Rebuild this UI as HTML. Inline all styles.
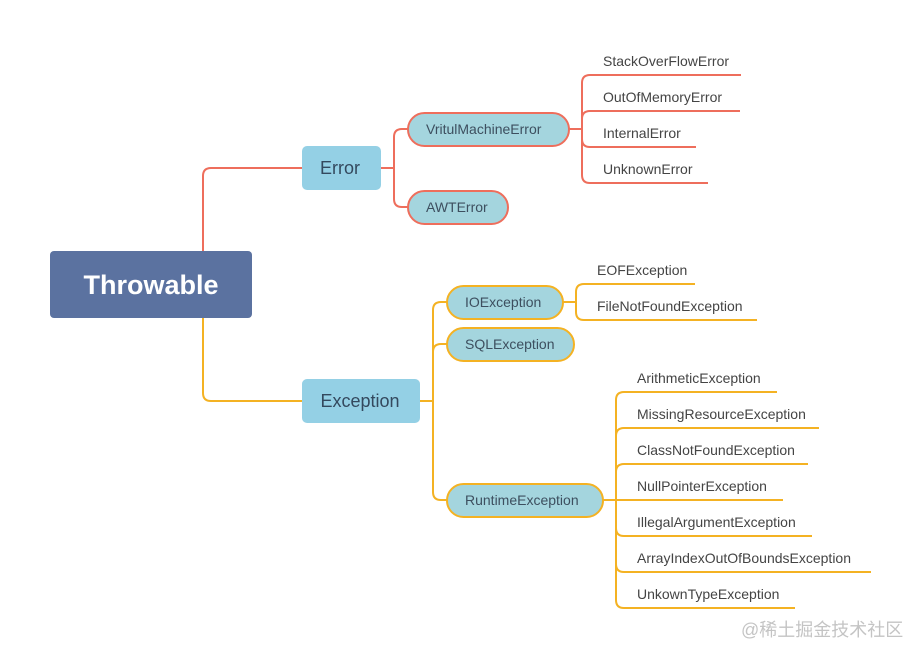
<!DOCTYPE html>
<html><head><meta charset="utf-8"><style>
html,body{margin:0;padding:0;background:#fff;}
svg{display:block;}
text{font-family:"Liberation Sans","Noto Sans CJK SC",sans-serif;}
</style></head><body>
<svg width="921" height="659" viewBox="0 0 921 659" xmlns="http://www.w3.org/2000/svg">
<g fill="none" stroke-width="2" stroke="#ee6e5c">
  <path d="M203 251 V176 Q203 168 211 168 H302"/>
  <path d="M381 168 H394"/>
  <path d="M408 129 H402 Q394 129 394 137 V199 Q394 207 402 207 H408"/>
  <path d="M569 129 H582"/>
  <path d="M741 75 H590 Q582 75 582 83 V175 Q582 183 590 183 H708"/>
  <path d="M740 111 H590 Q582 111 582 119"/>
  <path d="M696 147 H590 Q582 147 582 139"/>
</g>
<g fill="none" stroke-width="2" stroke="#f4b223">
  <path d="M203 318 V393 Q203 401 211 401 H302"/>
  <path d="M420 401 H433"/>
  <path d="M447 302 H441 Q433 302 433 310 V492 Q433 500 441 500 H447"/>
  <path d="M447 344 H441 Q433 344 433 352"/>
  <path d="M563 302 H576"/>
  <path d="M695 284 H584 Q576 284 576 292 V312 Q576 320 584 320 H757"/>
  <path d="M603 500 H616"/>
  <path d="M777 392 H624 Q616 392 616 400 V600 Q616 608 624 608 H795"/>
  <path d="M819 428 H624 Q616 428 616 436"/>
  <path d="M808 464 H624 Q616 464 616 472"/>
  <path d="M783 500 H616"/>
  <path d="M812 536 H624 Q616 536 616 528"/>
  <path d="M871 572 H624 Q616 572 616 564"/>
</g>
<rect x="50" y="251" width="202" height="67" rx="4" fill="#5b72a0"/>
<text x="151" y="294" font-size="27" font-weight="bold" fill="#fff" text-anchor="middle">Throwable</text>
<rect x="302" y="146" width="79" height="44" rx="5" fill="#94d0e5"/>
<text x="340" y="174" font-size="18" fill="#34495e" text-anchor="middle">Error</text>
<rect x="302" y="379" width="118" height="44" rx="5" fill="#94d0e5"/>
<text x="360" y="407" font-size="18" fill="#34495e" text-anchor="middle">Exception</text>
<g stroke-width="2" fill="#a4d5de">
  <rect x="408" y="113" width="161" height="33" rx="16.5" stroke="#ee6e5c"/>
  <rect x="408" y="191" width="100" height="33" rx="16.5" stroke="#ee6e5c"/>
  <rect x="447" y="286" width="116" height="33" rx="16.5" stroke="#f4b223"/>
  <rect x="447" y="328" width="127" height="33" rx="16.5" stroke="#f4b223"/>
  <rect x="447" y="484" width="156" height="33" rx="16.5" stroke="#f4b223"/>
</g>
<g font-size="14" fill="#3d4f5f">
  <text x="426" y="134">VritulMachineError</text>
  <text x="426" y="212">AWTError</text>
  <text x="465" y="307">IOException</text>
  <text x="465" y="349">SQLException</text>
  <text x="465" y="505">RuntimeException</text>
</g>
<g font-size="14" fill="#444">
  <text x="603" y="66">StackOverFlowError</text>
  <text x="603" y="102">OutOfMemoryError</text>
  <text x="603" y="138">InternalError</text>
  <text x="603" y="174">UnknownError</text>
  <text x="597" y="275">EOFException</text>
  <text x="597" y="311">FileNotFoundException</text>
  <text x="637" y="383">ArithmeticException</text>
  <text x="637" y="419">MissingResourceException</text>
  <text x="637" y="455">ClassNotFoundException</text>
  <text x="637" y="491">NullPointerException</text>
  <text x="637" y="527">IllegalArgumentException</text>
  <text x="637" y="563">ArrayIndexOutOfBoundsException</text>
  <text x="637" y="599">UnkownTypeException</text>
</g>
<text x="741" y="636" font-size="18" fill="#c4c4c4">@稀土掘金技术社区</text>
</svg>
</body></html>
